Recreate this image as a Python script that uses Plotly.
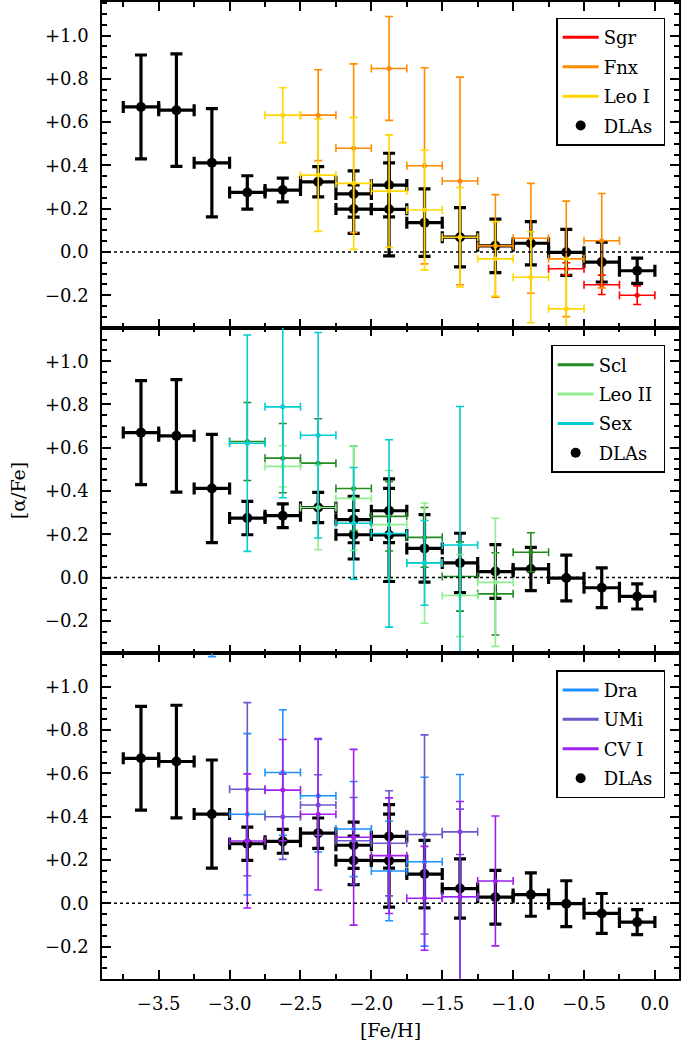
import plotly.graph_objects as go
from plotly.subplots import make_subplots

# ---------------- data ----------------
BIN_HALF = 0.125  # half bin width in [Fe/H]

# DLAs (shown in every panel)
dla_x = [-3.625, -3.375, -3.125, -2.875, -2.625, -2.375, -2.125, -2.125, -1.875, -1.875,
         -1.625, -1.375, -1.125, -0.875, -0.625, -0.375, -0.125]
dla_y = [0.670, 0.655, 0.412, 0.275, 0.286, 0.324, 0.268, 0.198, 0.309, 0.197,
         0.135, 0.068, 0.028, 0.040, -0.002, -0.047, -0.087]
dla_err = [0.240, 0.260, 0.250, 0.077, 0.055, 0.070, 0.107, 0.112, 0.147, 0.215,
           0.156, 0.137, 0.124, 0.100, 0.106, 0.092, 0.058]

# Panel 1
sgr_x = [-0.625, -0.375, -0.125]
sgr_y = [-0.078, -0.152, -0.200]
sgr_err = [0.028, 0.045, 0.043]

fnx_x = [-2.375, -2.125, -1.875, -1.625, -1.375, -1.125, -0.875, -0.625, -0.375]
fnx_y = [0.632, 0.479, 0.848, 0.398, 0.328, 0.028, 0.063, -0.032, 0.052]
fnx_err = [0.210, 0.390, 0.240, 0.453, 0.480, 0.237, 0.254, 0.267, 0.218]

leo1_x = [-2.625, -2.375, -2.125, -1.875, -1.625, -1.375, -1.125, -0.875, -0.625]
leo1_y = [0.632, 0.355, 0.317, 0.281, 0.194, 0.068, -0.032, -0.117, -0.263]
leo1_err = [0.127, 0.260, 0.305, 0.260, 0.277, 0.230, 0.172, 0.210, 0.231]

# Panel 2
scl_x = [-2.875, -2.625, -2.375, -2.125, -1.875, -1.625, -1.375, -1.125, -0.875]
scl_y = [0.629, 0.552, 0.529, 0.412, 0.283, 0.186, 0.005, -0.075, 0.117]
scl_err = [0.180, 0.160, 0.205, 0.195, 0.160, 0.138, 0.160, 0.190, 0.090]

leo2_x = [-2.625, -2.375, -2.125, -1.875, -1.625, -1.375, -1.125]
leo2_y = [0.514, 0.324, 0.366, 0.245, 0.067, -0.083, -0.022]
leo2_err = [0.095, 0.195, 0.240, 0.250, 0.278, 0.190, 0.296]

sex_x = [-2.875, -2.625, -2.375, -2.125, -1.875, -1.625, -1.375]
sex_y = [0.621, 0.789, 0.658, 0.251, 0.204, 0.068, 0.151]
sex_err = [0.500, 0.420, 0.475, 0.258, 0.433, 0.196, 0.640]

# Panel 3
dra_x = [-3.125, -2.875, -2.625, -2.375, -2.125, -1.875, -1.625, -1.375]
dra_y = [1.500, 0.411, 0.604, 0.497, 0.343, 0.149, 0.192, 0.030]
dra_err = [0.360, 0.373, 0.290, 0.260, 0.220, 0.230, 0.390, 0.565]

umi_x = [-2.875, -2.625, -2.375, -2.125, -1.875, -1.625, -1.375]
umi_y = [0.527, 0.400, 0.454, 0.289, 0.277, 0.318, 0.330]
umi_err = [0.400, 0.197, 0.140, 0.200, 0.243, 0.460, 0.105]

cv1_x = [-2.875, -2.625, -2.375, -2.125, -1.875, -1.625, -1.375, -1.125]
cv1_y = [0.288, 0.523, 0.411, 0.305, 0.220, 0.023, 0.030, 0.103]
cv1_err = [0.310, 0.234, 0.350, 0.406, 0.267, 0.240, 0.440, 0.300]

x_ticks = [-3.5, -3.0, -2.5, -2.0, -1.5, -1.0, -0.5, 0.0]
y_alias = {"1.0": "+1.0", "0.8": "+0.8", "0.6": "+0.6", "0.4": "+0.4", "0.2": "+0.2"}

panels = [
    [("Sgr", "#FF0000", sgr_x, sgr_y, sgr_err),
     ("Fnx", "#FF8C00", fnx_x, fnx_y, fnx_err),
     ("Leo I", "#FFD700", leo1_x, leo1_y, leo1_err)],
    [("Scl", "#228B22", scl_x, scl_y, scl_err),
     ("Leo II", "#90EE90", leo2_x, leo2_y, leo2_err),
     ("Sex", "#00CED1", sex_x, sex_y, sex_err)],
    [("Dra", "#1E90FF", dra_x, dra_y, dra_err),
     ("UMi", "#6A5ACD", umi_x, umi_y, umi_err),
     ("CV I", "#A020F0", cv1_x, cv1_y, cv1_err)],
]

FONT = "DejaVu Serif"
PAD = "\u00a0"

fig = make_subplots(rows=3, cols=1, shared_xaxes=True, vertical_spacing=0)

legend_names = ["legend", "legend2", "legend3"]

for i, series in enumerate(panels):
    row = i + 1
    lg = legend_names[i]
    # DLAs first (underneath)
    fig.add_trace(go.Scatter(
        x=dla_x, y=dla_y, mode="markers",
        marker=dict(color="black", size=10),
        error_y=dict(type="data", array=dla_err, color="black", thickness=3.2, width=6),
        error_x=dict(type="constant", value=BIN_HALF, color="black", thickness=3.2, width=6),
        showlegend=False), row=row, col=1)
    for name, color, xs, ys, es in series:
        fig.add_trace(go.Scatter(
            x=xs, y=ys, mode="markers",
            marker=dict(color=color, size=5),
            error_y=dict(type="data", array=es, color=color, thickness=1.6, width=4),
            error_x=dict(type="constant", value=BIN_HALF, color=color, thickness=1.6, width=4),
            showlegend=False), row=row, col=1)
    # legend entries
    for k, (name, color, xs, ys, es) in enumerate(series):
        fig.add_trace(go.Scatter(
            x=[None], y=[None], mode="lines", name=name + PAD,
            line=dict(color=color, width=3), legend=lg, legendgroup=f"{lg}{k}",
            legendrank=k + 1), row=row, col=1)
    fig.add_trace(go.Scatter(
        x=[None], y=[None], mode="markers", name="DLAs" + PAD,
        marker=dict(color="black", size=10), legend=lg, legendgroup=f"{lg}d",
        legendrank=10), row=row, col=1)
    # zero line
    fig.add_shape(type="line", xref=f"x{'' if row == 1 else row} domain", x0=0, x1=1,
                  yref=f"y{'' if row == 1 else row}", y0=0, y1=0,
                  line=dict(color="black", width=1.5, dash="dot"))

axis_common = dict(showline=True, linecolor="black", linewidth=1.5, mirror="allticks",
                   ticks="inside", tickcolor="black", tickwidth=1.5, showgrid=False,
                   zeroline=False, automargin=False)

for r in range(1, 4):
    fig.update_yaxes(range=[-0.35, 1.155], tick0=0, dtick=0.2, tickformat=".1f",
                     labelalias=y_alias, ticklen=9,
                     minor=dict(ticks="inside", dtick=0.05, tick0=0, ticklen=5,
                                tickcolor="black", tickwidth=1.5),
                     ticklabelstandoff=8,
                     tickfont=dict(family=FONT, size=18, color="black"),
                     row=r, col=1, **axis_common)
    fig.update_xaxes(range=[-3.90, 0.17], tickvals=x_ticks, tickformat=".1f", ticklen=9,
                     minor=dict(ticks="inside", dtick=0.25, tick0=0, ticklen=5,
                                tickcolor="black", tickwidth=1.5),
                     ticklabelstandoff=8,
                     tickfont=dict(family=FONT, size=18, color="black"),
                     row=r, col=1, **axis_common)

fig.update_yaxes(title=dict(text="[α/Fe]", font=dict(family=FONT, size=19, color="black"),
                            standoff=14), row=2, col=1)
fig.update_xaxes(title=dict(text="[Fe/H]", font=dict(family=FONT, size=19, color="black"),
                            standoff=10), row=3, col=1)

legend_style = dict(bgcolor="white", bordercolor="black", borderwidth=1.5,
                    font=dict(family=FONT, size=18, color="black"),
                    xanchor="right", yanchor="top", x=0.976, tracegroupgap=3,
                    traceorder="grouped", itemwidth=36)
fig.update_layout(
    legend=dict(y=0.984, **legend_style),
    legend2=dict(y=0.649, **legend_style),
    legend3=dict(y=0.316, **legend_style),
)

fig.update_layout(
    width=685, height=1047,
    margin=dict(l=102, r=6, t=2, b=68, autoexpand=False),
    paper_bgcolor="white", plot_bgcolor="white",
    font=dict(family=FONT, color="black"),
)

fig.write_html("out.html", config={"displayModeBar": False},
               post_script="document.body.style.margin='0';document.body.style.overflow='hidden';")
